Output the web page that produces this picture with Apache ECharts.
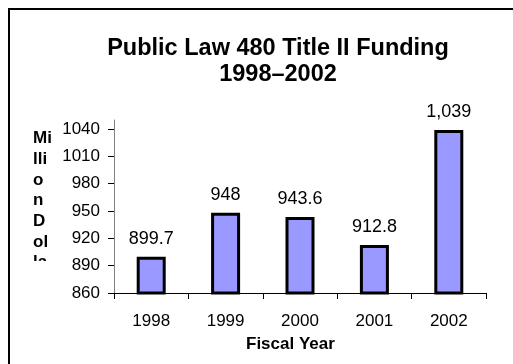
<!DOCTYPE html>
<html>
<head>
<meta charset="utf-8">
<script src="https://cdn.jsdelivr.net/npm/echarts@6/dist/echarts.min.js"></script>
<style>html,body{margin:0;padding:0;background:#fff;}#c{width:513px;height:364px;}</style>
</head>
<body>
<div id="c"></div>
<script>
var categories = ['1998', '1999', '2000', '2001', '2002'];
var values = [899.7, 948, 943.6, 912.8, 1039];
var valueLabels = ['899.7', '948', '943.6', '912.8', '1,039'];
var yTicks = [860, 890, 920, 950, 980, 1010, 1040];
var yTitleLines = ['Mi', 'lli', 'o', 'n', 'D', 'ol', 'la'];

var FONT = '"Liberation Sans", Arial, sans-serif';
var chart = echarts.init(document.getElementById('c'), null, {renderer: 'canvas'});

var graphics = [
  {type: 'rect', shape: {x: 9, y: 9, width: 520, height: 370}, style: {fill: 'none', stroke: '#000', lineWidth: 2}, z: 10},
  {type: 'text', left: 246, top: 336, style: {text: 'Fiscal Year', font: 'bold 17px ' + FONT, fill: '#000'}}
];
yTitleLines.forEach(function (t, i) {
  graphics.push({type: 'text', x: 33, y: 130 + i * 20.7, style: {text: t, font: 'bold 17px ' + FONT, fill: '#000'}});
});
graphics.push({type: 'rect', shape: {x: 25, y: 261, width: 32, height: 25}, style: {fill: '#fff'}, z: 5});

chart.setOption({
  animation: false,
  backgroundColor: '#fff',
  title: {
    text: 'Public Law 480 Title II Funding\n1998\u20132002',
    left: 273, top: 31, textAlign: 'center',
    textStyle: {fontFamily: FONT, fontWeight: 'bold', fontSize: 23.5, color: '#000', lineHeight: 26}
  },
  grid: {left: 114, top: 120, right: 27, bottom: 71},
  xAxis: {
    type: 'category', data: categories,
    axisLine: {lineStyle: {color: '#000', width: 1}},
    axisTick: {show: true, length: 6, lineStyle: {color: '#000'}, alignWithLabel: false},
    axisLabel: {fontFamily: FONT, fontSize: 17, color: '#000', margin: 20}
  },
  yAxis: {
    type: 'value', min: 860, max: 1050,
    splitLine: {show: false},
    axisLine: {show: true, lineStyle: {color: '#808080', width: 1}},
    axisTick: {show: true, length: 6, inside: false, lineStyle: {color: '#000'}, customValues: yTicks},
    axisLabel: {fontFamily: FONT, fontSize: 17, color: '#000', margin: 14, customValues: yTicks,
      formatter: function (v) { return String(v); }}
  },
  series: [{
    type: 'bar', data: values, barWidth: 29,
    itemStyle: {color: '#9999FF', borderColor: '#000', borderWidth: 3},
    label: {
      show: true, position: 'top', distance: 9,
      fontFamily: FONT, fontSize: 18, color: '#000',
      formatter: function (p) { return valueLabels[p.dataIndex]; }
    }
  }],
  graphic: graphics
});
</script>
</body>
</html>
